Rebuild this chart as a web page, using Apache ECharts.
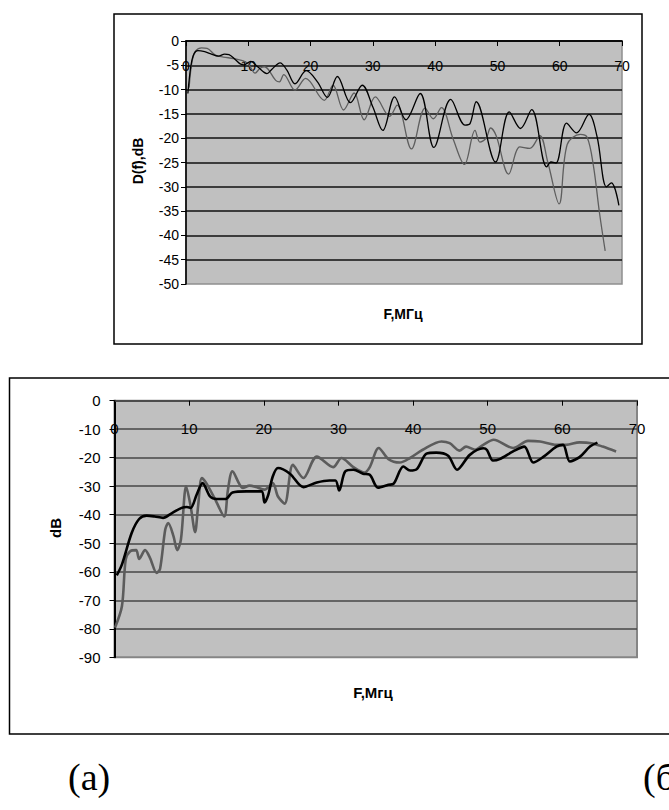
<!DOCTYPE html>
<html>
<head>
<meta charset="utf-8">
<script src="https://cdn.jsdelivr.net/npm/echarts@6/dist/echarts.min.js"></script>
<style>
html,body{margin:0;padding:0;background:#fff;}
#c{width:669px;height:810px;}
</style>
</head>
<body>
<div id="c"></div>
<script>
// ---- Data ----
// Chart (a): D(f), dB vs F, MHz
var aBlackF = [0.3,0.8,1.3,1.9,3.0,3.9,5.2,6.2,6.9,7.9,8.7,9.3,10.4,11.5,13.0,13.8,15.1,16.2,17.5,19.3,21.1,22.7,24.3,26.4,28.3,30.0,31.6,33.5,35.3,37.6,39.8,42.5,44.8,45.6,46.6,49.7,51.9,53.7,55.5,57.9,58.6,59.4,61.1,62.7,64.7,66.0,67.5,68.3,69.5];
var aBlackD = [-10.8,-5.0,-2.6,-2.0,-2.2,-2.6,-3.1,-2.7,-2.8,-3.8,-4.7,-4.9,-4.2,-5.3,-6.7,-5.8,-4.5,-6.0,-8.8,-6.1,-8.4,-11.6,-7.3,-12.7,-9.1,-13.6,-18.4,-11.5,-16.2,-10.8,-21.9,-12.0,-17.3,-17.0,-12.5,-24.9,-14.6,-18.0,-14.1,-25.9,-24.9,-25.1,-16.9,-18.9,-15.1,-19.7,-30.0,-29.2,-33.8];
var aGrayF = [0.5,1.0,1.6,2.5,3.4,4.7,6.0,7.6,9.2,10.0,11.1,11.9,12.6,14.4,15.0,15.7,17.5,19.2,22.2,23.6,25.3,27.0,28.6,30.4,32.7,33.9,36.2,38.4,39.7,41.0,42.9,44.7,46.4,47.2,48.2,48.9,49.8,51.8,53.6,55.2,56.8,58.1,59.9,61.2,63.3,64.4,65.4,66.4,67.3];
var aGrayD = [-9.6,-4.0,-2.0,-1.4,-1.5,-2.9,-3.3,-3.6,-4.1,-4.7,-6.6,-5.6,-5.3,-8.1,-8.4,-6.9,-10.1,-7.7,-12.2,-9.1,-14.2,-10.7,-16.2,-11.5,-15.5,-13.2,-22.2,-13.8,-16.0,-13.7,-20.2,-25.4,-18.4,-20.8,-20.0,-17.9,-19.5,-27.4,-21.8,-22.1,-19.5,-25.0,-33.5,-21.3,-19.2,-19.8,-25.6,-35.5,-43.2];

// Chart (б): dB vs F, MHz
var bBlackF = [0.3,1.0,2.3,3.3,4.3,5.4,6.5,7.7,9.0,9.7,10.2,11.0,11.8,12.8,13.7,14.9,15.8,17.7,19.7,20.1,20.6,21.2,21.9,23.5,25.3,27.1,28.8,29.6,30.1,30.9,32.0,33.3,34.2,35.3,36.7,37.4,38.7,39.6,40.5,41.8,43.1,44.7,45.9,47.6,49.4,49.9,50.7,51.6,53.4,54.9,56.1,57.4,59.2,60.1,61.0,62.3,63.7,64.7];
var bBlackD = [-61.3,-57.4,-46.4,-41.5,-40.3,-40.6,-41.1,-39.4,-37.6,-37.3,-37.6,-33.0,-28.9,-33.6,-34.5,-34.5,-32.2,-31.8,-31.8,-35.7,-33.0,-26.6,-23.6,-25.6,-30.3,-28.7,-28.0,-28.0,-31.5,-24.8,-24.2,-25.6,-26.0,-30.5,-29.5,-29.1,-23.1,-24.5,-24.0,-18.6,-18.2,-19.3,-24.2,-19.0,-16.7,-17.3,-21.0,-20.5,-17.8,-16.1,-21.7,-19.8,-16.1,-15.5,-21.3,-19.8,-16.1,-14.7];
var bGrayF = [0.07,1.0,1.5,2.1,2.9,3.3,4.1,4.75,5.65,6.1,6.8,7.2,7.9,8.4,8.9,9.6,10.2,10.8,11.2,11.7,12.3,13.5,14.7,15.2,15.8,17.2,18.1,19.0,20.1,21.2,21.9,22.8,23.9,25.3,27.1,29.3,30.4,32.0,33.5,34.2,35.4,36.7,38.2,39.6,41.3,43.8,44.9,46.2,47.1,48.3,49.4,50.8,53.4,55.4,57.0,59.2,60.5,62.3,63.9,65.4,67.2];
var bGrayD = [-79.6,-72.0,-55.7,-52.8,-52.4,-55.5,-52.4,-55.1,-60.4,-59.0,-45.2,-42.9,-47.5,-52.4,-48.7,-30.0,-37.0,-46.1,-37.0,-27.1,-28.9,-34.7,-40.6,-31.2,-24.8,-30.6,-29.8,-30.3,-31.2,-28.9,-33.6,-36.1,-22.5,-27.1,-19.6,-23.3,-20.1,-23.3,-25.2,-23.3,-16.6,-20.5,-21.7,-20.1,-17.2,-14.3,-14.9,-17.5,-16.1,-17.2,-15.5,-13.7,-16.6,-14.1,-14.3,-15.5,-15.5,-14.6,-14.9,-16.1,-17.8];

// Axis ranges and texts
var aYTitle = 'D(f),dB', aXTitle = 'F,МГц';
var bYTitle = 'dB', bXTitle = 'F,Мгц';
var captionA = '(a)', captionB = '(б)';

function pairs(f, d) { return f.map(function (v, i) { return [v, d[i]]; }); }

var FONT = '"Liberation Sans", Arial, sans-serif';
var chart = echarts.init(document.getElementById('c'), null, {renderer: 'svg'});

function xAxisCfg(gi, lineColor, fs, margin) {
  return {
    type: 'value', gridIndex: gi, min: 0, max: 70, interval: 10, position: 'top',
    axisLine: {show: true, onZero: false, lineStyle: {color: lineColor, width: 1.6}},
    axisTick: {show: true, inside: true, length: 5, lineStyle: {color: '#000', width: 1}},
    axisLabel: {inside: true, margin: margin, verticalAlign: 'middle', color: '#000',
      fontSize: fs, fontFamily: FONT, showMinLabel: true, showMaxLabel: true},
    splitLine: {show: false}
  };
}
function yAxisCfg(gi, min, interval, gridColor, fs, margin, axisW) {
  return {
    type: 'value', gridIndex: gi, min: min, max: 0, interval: interval,
    axisLine: {show: true, onZero: false, lineStyle: {color: '#000', width: axisW}},
    axisTick: {show: true, inside: false, length: 5, lineStyle: {color: '#000', width: 1}},
    axisLabel: {margin: margin, color: '#000', fontSize: fs, fontFamily: FONT,
      showMinLabel: true, showMaxLabel: true},
    splitLine: {show: true, showMinLine: false, lineStyle: {color: gridColor, width: 1.5}}
  };
}

var option = {
  animation: false,
  backgroundColor: '#fff',
  grid: [
    {left: 186, top: 41, width: 436, height: 243, show: true, backgroundColor: '#c0c0c0',
     borderColor: '#8e8e8e', borderWidth: 1.5, containLabel: false},
    {left: 114.5, top: 400.7, width: 522.5, height: 256.6, show: true, backgroundColor: '#c0c0c0',
     borderColor: '#858585', borderWidth: 2, containLabel: false}
  ],
  xAxis: [
    xAxisCfg(0, '#000', 14, 24.5),
    xAxisCfg(1, '#4a4a4a', 15, 27.5)
  ],
  yAxis: [
    yAxisCfg(0, -50, 5, '#111', 14, 7, 1.6),
    yAxisCfg(1, -90, 10, '#474747', 15, 14, 2)
  ],
  series: [
    {type: 'line', xAxisIndex: 0, yAxisIndex: 0, data: pairs(aGrayF, aGrayD), smooth: 0.35,
     showSymbol: false, lineStyle: {color: '#5e5e5e', width: 1.3}},
    {type: 'line', xAxisIndex: 0, yAxisIndex: 0, data: pairs(aBlackF, aBlackD), smooth: 0.35,
     showSymbol: false, lineStyle: {color: '#000', width: 1.3}},
    {type: 'line', xAxisIndex: 1, yAxisIndex: 1, data: pairs(bGrayF, bGrayD), smooth: 0.3,
     showSymbol: false, lineStyle: {color: '#5c5c5c', width: 2.6}},
    {type: 'line', xAxisIndex: 1, yAxisIndex: 1, data: pairs(bBlackF, bBlackD), smooth: 0.3,
     showSymbol: false, lineStyle: {color: '#000', width: 2.6}}
  ],
  graphic: [
    {type: 'rect', shape: {x: 114, y: 14, width: 528, height: 330}, z: -1,
     style: {fill: 'none', stroke: '#000', lineWidth: 1.5}},
    {type: 'rect', shape: {x: 9.5, y: 378, width: 680, height: 356}, z: -1,
     style: {fill: 'none', stroke: '#000', lineWidth: 1.5}},
    {type: 'text', x: 138, y: 161, rotation: Math.PI / 2,
     style: {text: aYTitle, font: 'bold 14px ' + FONT, fill: '#000', align: 'center', verticalAlign: 'middle'}},
    {type: 'text', x: 403, y: 314,
     style: {text: aXTitle, font: 'bold 14px ' + FONT, fill: '#000', align: 'center', verticalAlign: 'middle'}},
    {type: 'text', x: 55, y: 528, rotation: Math.PI / 2,
     style: {text: bYTitle, font: 'bold 15px ' + FONT, fill: '#000', align: 'center', verticalAlign: 'middle'}},
    {type: 'text', x: 373, y: 692,
     style: {text: bXTitle, font: 'bold 15px ' + FONT, fill: '#000', align: 'center', verticalAlign: 'middle'}},
    {type: 'text', x: 68, y: 777,
     style: {text: captionA, font: '38px "Liberation Serif", "Times New Roman", serif', fill: '#000', align: 'left', verticalAlign: 'middle'}},
    {type: 'text', x: 643, y: 777,
     style: {text: captionB, font: '38px "Liberation Serif", "Times New Roman", serif', fill: '#000', align: 'left', verticalAlign: 'middle'}}
  ]
};
chart.setOption(option);
</script>
</body>
</html>
